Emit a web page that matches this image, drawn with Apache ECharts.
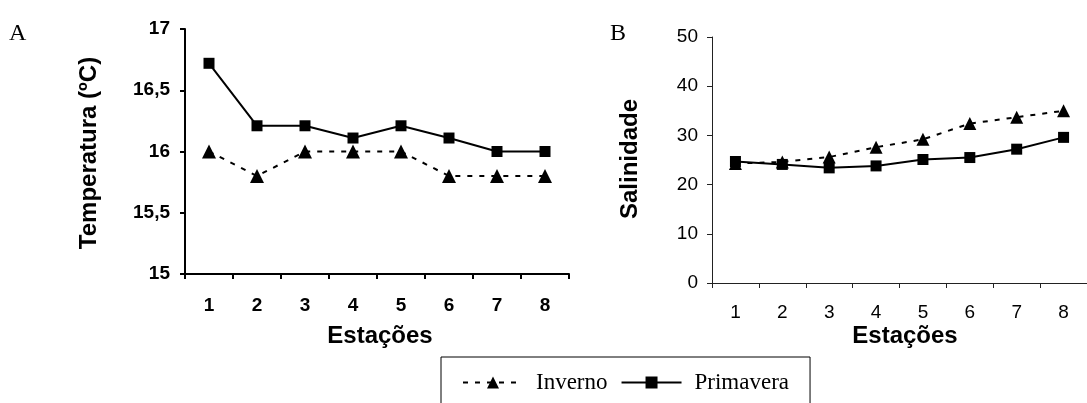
<!DOCTYPE html>
<html>
<head>
<meta charset="utf-8">
<script src="https://cdn.jsdelivr.net/npm/echarts@6/dist/echarts.min.js"></script>
<style>
html,body{margin:0;padding:0;background:#fff;}
#chart{width:1087px;height:403px;}
</style>
</head>
<body>
<div id="chart"></div>
<script>
const categories = ['1','2','3','4','5','6','7','8'];
const tempInverno = [16.0, 15.8, 16.0, 16.0, 16.0, 15.8, 15.8, 15.8];
const tempPrimavera = [16.72, 16.21, 16.21, 16.11, 16.21, 16.11, 16.0, 16.0];
const salInverno = [24.3, 24.6, 25.6, 27.6, 29.2, 32.4, 33.7, 35.0];
const salPrimavera = [24.7, 24.1, 23.4, 23.8, 25.1, 25.5, 27.2, 29.6];
const seriesNames = ['Inverno', 'Primavera'];

const SANS = 'Liberation Sans, Arial, sans-serif';
const SERIF = 'Liberation Serif, Times New Roman, serif';

const chart = echarts.init(document.getElementById('chart'), null, {renderer: 'canvas'});

function invernoSeries(xi, data, symSize) {
  return {
    name: seriesNames[0], type: 'line', xAxisIndex: xi, yAxisIndex: xi, data: data,
    symbol: 'triangle', symbolSize: symSize,
    itemStyle: {color: '#000'},
    lineStyle: {color: '#000', width: 2, type: [5, 7]},
    animation: false
  };
}
function primaveraSeries(xi, data, symSize) {
  return {
    name: seriesNames[1], type: 'line', xAxisIndex: xi, yAxisIndex: xi, data: data,
    symbol: 'rect', symbolSize: symSize,
    itemStyle: {color: '#000'},
    lineStyle: {color: '#000', width: 2, type: 'solid'},
    animation: false
  };
}

const option = {
  backgroundColor: '#fff',
  animation: false,
  grid: [
    {left: 185, top: 29, width: 384, height: 245},
    {left: 712, top: 37, width: 384, height: 246}
  ],
  xAxis: [
    {
      type: 'category', gridIndex: 0, data: categories, boundaryGap: true,
      axisLine: {lineStyle: {color: '#000', width: 2}},
      axisTick: {show: true, length: 5, lineStyle: {color: '#000', width: 2}},
      axisLabel: {color: '#000', fontFamily: SANS, fontWeight: 'bold', fontSize: 19, margin: 22}
    },
    {
      type: 'category', gridIndex: 1, data: categories, boundaryGap: true,
      axisLine: {lineStyle: {color: '#222', width: 1}},
      axisTick: {show: true, length: 5, lineStyle: {color: '#222', width: 1}},
      axisLabel: {color: '#000', fontFamily: SANS, fontSize: 19, margin: 20}
    }
  ],
  yAxis: [
    {
      type: 'value', gridIndex: 0, min: 15, max: 17, interval: 0.5,
      axisLine: {show: true, lineStyle: {color: '#000', width: 2}},
      axisTick: {show: true, length: 5, lineStyle: {color: '#000', width: 2}},
      splitLine: {show: false},
      axisLabel: {color: '#000', fontFamily: SANS, fontWeight: 'bold', fontSize: 19, margin: 15,
        formatter: v => String(v).replace('.', ',')}
    },
    {
      type: 'value', gridIndex: 1, min: 0, max: 50, interval: 10,
      axisLine: {show: true, lineStyle: {color: '#222', width: 1}},
      axisTick: {show: true, length: 5, lineStyle: {color: '#222', width: 1}},
      splitLine: {show: false},
      axisLabel: {color: '#000', fontFamily: SANS, fontSize: 19, margin: 14}
    }
  ],
  legend: {
    data: seriesNames,
    left: 441, top: 357,
    padding: [14, 21, 40, 21],
    borderColor: '#000', borderWidth: 1,
    itemWidth: 60, itemHeight: 15, itemGap: 13,
    textStyle: {color: '#000', fontFamily: SERIF, fontSize: 23, padding: [0, 0, 0, 8]}
  },
  graphic: [
    {type: 'text', left: 9, top: 22, style: {text: 'A', font: '24px ' + SERIF, fill: '#000'}},
    {type: 'text', left: 610, top: 22, style: {text: 'B', font: '24px ' + SERIF, fill: '#000'}},
    {type: 'text', x: 89, y: 153, rotation: Math.PI / 2,
      style: {text: 'Temperatura (ºC)', font: 'bold 24px ' + SANS, fill: '#000', textAlign: 'center', textVerticalAlign: 'middle'}},
    {type: 'text', x: 630, y: 159, rotation: Math.PI / 2,
      style: {text: 'Salinidade', font: 'bold 24px ' + SANS, fill: '#000', textAlign: 'center', textVerticalAlign: 'middle'}},
    {type: 'text', x: 380, y: 336,
      style: {text: 'Estações', font: 'bold 24px ' + SANS, fill: '#000', textAlign: 'center', textVerticalAlign: 'middle'}},
    {type: 'text', x: 905, y: 336,
      style: {text: 'Estações', font: 'bold 24px ' + SANS, fill: '#000', textAlign: 'center', textVerticalAlign: 'middle'}}
  ],
  series: [
    invernoSeries(0, tempInverno, 14),
    primaveraSeries(0, tempPrimavera, 11),
    invernoSeries(1, salInverno, 13),
    primaveraSeries(1, salPrimavera, 11)
  ]
};
chart.setOption(option);
</script>
</body>
</html>
